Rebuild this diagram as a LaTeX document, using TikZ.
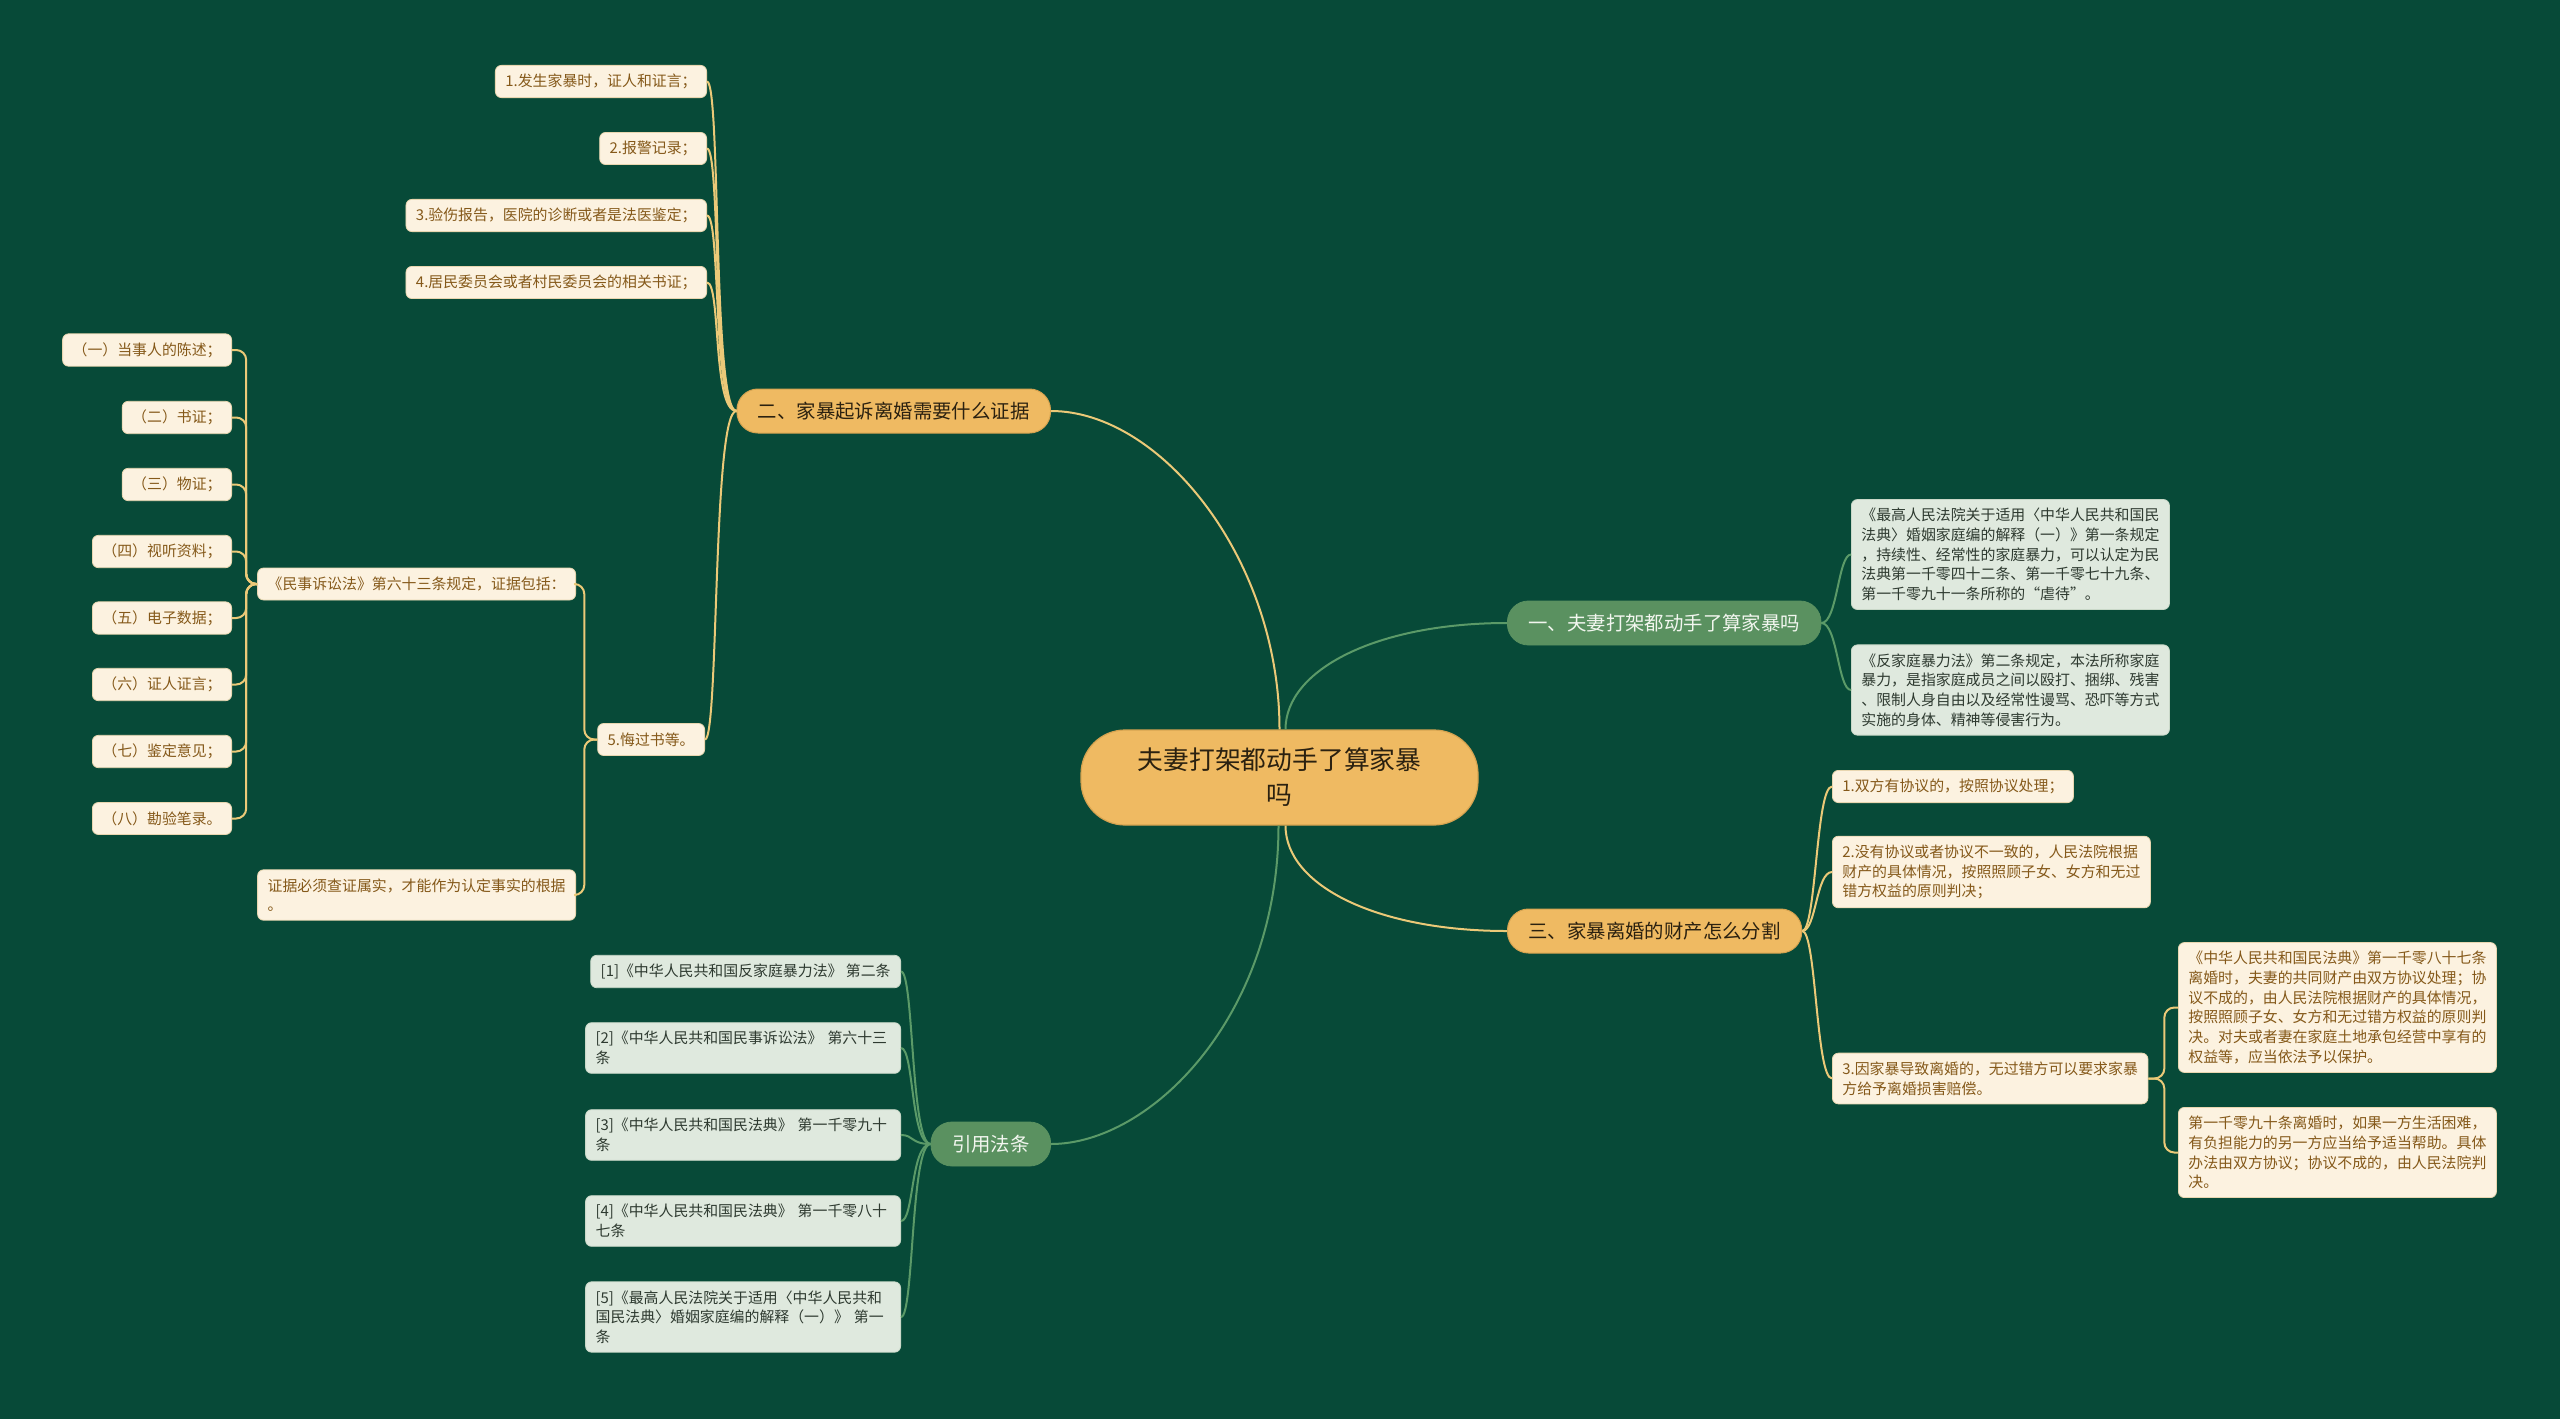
\documentclass[tikz,border=0pt]{standalone}
\usepackage{fontspec}
\setmainfont{Noto Sans CJK SC}
\usetikzlibrary{calc}
\definecolor{bg}{HTML}{074A38}
\definecolor{orfill}{HTML}{EFBA62}
\definecolor{ortext}{HTML}{2B2110}
\definecolor{ordraw}{HTML}{D6A350}
\definecolor{grfill}{HTML}{5A9160}
\definecolor{grtext}{HTML}{F2F6EF}
\definecolor{yline}{HTML}{EBC978}
\definecolor{gline}{HTML}{5B9A68}
\definecolor{crfill}{HTML}{FCF2E0}
\definecolor{crdraw}{HTML}{E8D6B0}
\definecolor{crtext}{HTML}{85591A}
\definecolor{mnfill}{HTML}{DFE9DE}
\definecolor{mndraw}{HTML}{C9D8C8}
\definecolor{mntext}{HTML}{2E3A30}
\tikzset{
  leafbase/.style={rounded corners=3pt, inner xsep=5pt, inner ysep=4.3pt, minimum height=16pt,
    font=\fontsize{7.45pt}{9.85pt}\selectfont, align=left, line width=0.4pt},
  cream/.style={leafbase, fill=crfill, draw=crdraw, text=crtext},
  mint/.style={leafbase, fill=mnfill, draw=mndraw, text=mntext},
  brbase/.style={rounded corners=10.5pt, minimum height=22pt, inner xsep=10.5pt, inner ysep=0pt,
    font=\fontsize{9.7pt}{12pt}\selectfont},
  brO/.style={brbase, fill=orfill, draw=ordraw, line width=0.5pt, text=ortext},
  brG/.style={brbase, fill=grfill, draw=grfill, text=grtext},
  rootn/.style={rounded corners=22pt, minimum width=198.5pt, minimum height=47.5pt, align=center,
    fill=orfill, draw=ordraw, line width=0.6pt, text=ortext, font=\fontsize{12.9pt}{17.5pt}\selectfont},
  yl/.style={draw=yline, line width=1pt},
  gl/.style={draw=gline, line width=1pt},
}
\begin{document}
\begin{tikzpicture}[x=0.5pt,y=-0.5pt]
\fill[bg] (0,0) rectangle (2560,1419);
\useasboundingbox (0,0) rectangle (2560,1419);

% root and branches
\node[rootn] (root) at (1279.5,777.5) {夫妻打架都动手了算家暴\\吗};
\node[brO, anchor=east] (b2) at (1051,411) {二、家暴起诉离婚需要什么证据};
\node[brG, anchor=west] (b1) at (1507,623) {一、夫妻打架都动手了算家暴吗};
\node[brO, anchor=west] (b3) at (1507,931) {三、家暴离婚的财产怎么分割};
\node[brG, anchor=east] (b4) at (1051,1144) {引用法条};

% branch 2 leaves
\node[cream, anchor=east] (a1) at (707,81.5) {1.发生家暴时，证人和证言；};
\node[cream, anchor=east] (a2) at (707,148.5) {2.报警记录；};
\node[cream, anchor=east] (a3) at (707,215.5) {3.验伤报告，医院的诊断或者是法医鉴定；};
\node[cream, anchor=east] (a4) at (707,282.5) {4.居民委员会或者村民委员会的相关书证；};
\node[cream, anchor=east] (a5) at (705,739.5) {5.悔过书等。};
\node[cream, anchor=east] (e1) at (576,584) {《民事诉讼法》第六十三条规定，证据包括：};
\node[cream, anchor=east] (e2) at (576,895) {证据必须查证属实，才能作为认定事实的根据\\。};
\node[cream, anchor=east] (f1) at (232,350) {（一）当事人的陈述；};
\node[cream, anchor=east] (f2) at (232,417.5) {（二）书证；};
\node[cream, anchor=east] (f3) at (232,484.5) {（三）物证；};
\node[cream, anchor=east] (f4) at (232,551.5) {（四）视听资料；};
\node[cream, anchor=east] (f5) at (232,618) {（五）电子数据；};
\node[cream, anchor=east] (f6) at (232,684.5) {（六）证人证言；};
\node[cream, anchor=east] (f7) at (232,751.5) {（七）鉴定意见；};
\node[cream, anchor=east] (f8) at (232,818.5) {（八）勘验笔录。};

% branch 1 leaves
\node[mint, anchor=west] (c1a) at (1851,554.5) {《最高人民法院关于适用〈中华人民共和国民\\法典〉婚姻家庭编的解释（一）》第一条规定\\，持续性、经常性的家庭暴力，可以认定为民\\法典第一千零四十二条、第一千零七十九条、\\第一千零九十一条所称的“虐待”。};
\node[mint, anchor=west] (c1b) at (1851,690) {《反家庭暴力法》第二条规定，本法所称家庭\\暴力，是指家庭成员之间以殴打、捆绑、残害\\、限制人身自由以及经常性谩骂、恐吓等方式\\实施的身体、精神等侵害行为。};

% branch 3 leaves
\node[cream, anchor=west] (c3a) at (1832,786.5) {1.双方有协议的，按照协议处理；};
\node[cream, anchor=west] (c3b) at (1832,872) {2.没有协议或者协议不一致的，人民法院根据\\财产的具体情况，按照照顾子女、女方和无过\\错方权益的原则判决；};
\node[cream, anchor=west] (c3c) at (1832,1078.5) {3.因家暴导致离婚的，无过错方可以要求家暴\\方给予离婚损害赔偿。};
\node[cream, anchor=west] (d1) at (2178,1007.5) {《中华人民共和国民法典》第一千零八十七条\\离婚时，夫妻的共同财产由双方协议处理；协\\议不成的，由人民法院根据财产的具体情况，\\按照照顾子女、女方和无过错方权益的原则判\\决。对夫或者妻在家庭土地承包经营中享有的\\权益等，应当依法予以保护。};
\node[cream, anchor=west] (d2) at (2178,1152.5) {第一千零九十条离婚时，如果一方生活困难，\\有负担能力的另一方应当给予适当帮助。具体\\办法由双方协议；协议不成的，由人民法院判\\决。};

% citations
\node[mint, anchor=east] (r1) at (901,971.5) {[1]《中华人民共和国反家庭暴力法》 第二条};
\node[mint, anchor=east, text width=147.5pt] (r2) at (901,1048) {[2]《中华人民共和国民事诉讼法》 第六十三\\条};
\node[mint, anchor=east, text width=147.5pt] (r3) at (901,1135) {[3]《中华人民共和国民法典》 第一千零九十\\条};
\node[mint, anchor=east, text width=147.5pt] (r4) at (901,1221) {[4]《中华人民共和国民法典》 第一千零八十\\七条};
\node[mint, anchor=east, text width=147.5pt] (r5) at (901,1317) {[5]《最高人民法院关于适用〈中华人民共和\\国民法典〉婚姻家庭编的解释（一）》 第一\\条};

% root connectors
\coordinate (rtY) at (root.north);
\coordinate (rtG) at ($(root.north)+(6,0)$);
\coordinate (rbY) at ($(root.south)+(6,0)$);
\coordinate (rbG) at ($(root.south)+(-1,0)$);
\draw[yl] (rtY) .. controls +(0,-170) and +(110,0) .. (b2.east);
\draw[gl] (rtG) .. controls +(0,-60) and +(-130,0) .. (b1.west);
\draw[yl] (rbY) .. controls +(0,60) and +(-130,0) .. (b3.west);
\draw[gl] (rbG) .. controls +(0,190) and +(100,0) .. (b4.east);

% branch 2 connectors
\foreach \n in {a1,a2,a3,a4,a5}
  \draw[yl] (b2.west) .. controls +(-24,0) and +(14,0) .. (\n.east);
\foreach \n in {e1,e2}
  \draw[yl, rounded corners=5pt] (a5.west) -- ($(a5.west)+(-13,0)$) |- (\n.east);
\foreach \n in {f1,f2,f3,f4,f5,f6,f7,f8}
  \draw[yl, rounded corners=5pt] (e1.west) -- ($(e1.west)+(-11,0)$) |- (\n.east);

% branch 1 connectors
\foreach \n in {c1a,c1b}
  \draw[gl] (b1.east) .. controls +(16,0) and +(-13,0) .. (\n.west);

% branch 3 connectors
\foreach \n in {c3a,c3b,c3c}
  \draw[yl] (b3.east) .. controls +(14,0) and +(-16,0) .. (\n.west);
\foreach \n in {d1,d2}
  \draw[yl, rounded corners=5pt] (c3c.east) -- ($(c3c.east)+(16,0)$) |- (\n.west);

% citation connectors
\foreach \n in {r1,r2,r3,r4,r5}
  \draw[gl] (b4.west) .. controls +(-20,0) and +(13,0) .. (\n.east);
\end{tikzpicture}
\end{document}
